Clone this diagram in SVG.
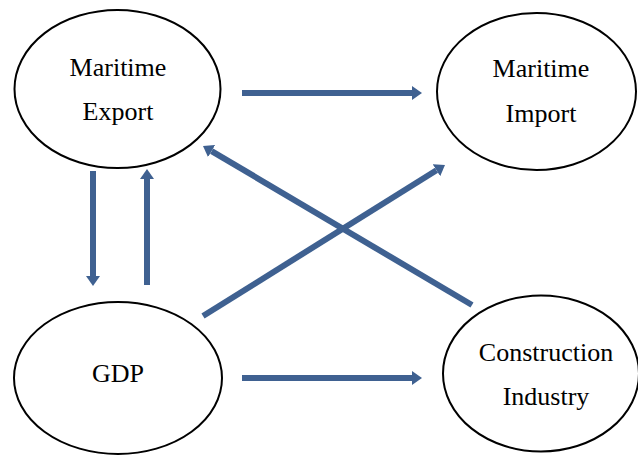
<svg xmlns="http://www.w3.org/2000/svg" width="638" height="455" viewBox="0 0 638 455">
<defs>
<marker id="ah" viewBox="0 0 10 14" refX="0" refY="7" markerWidth="10" markerHeight="14" markerUnits="userSpaceOnUse" orient="auto">
<path d="M0,0 L10,7 L0,14 z" fill="#3F6191"/>
</marker>
<style>
.node ellipse{fill:#fff;stroke:#000;stroke-width:2}
.node text{font-family:"Liberation Serif","Times New Roman",serif;font-size:26px;fill:#000;text-anchor:middle}
.conn line{stroke:#3F6191;stroke-width:6;marker-end:url(#ah)}
</style>
</defs>
<rect width="638" height="455" fill="#fff"/>
<g id="maritime-export" class="node">
<ellipse cx="117.5" cy="89" rx="103" ry="79"/>
<text x="118" y="76">Maritime</text>
<text x="118" y="120">Export</text>
</g>
<g id="maritime-import" class="node">
<ellipse cx="536.5" cy="91.5" rx="99.5" ry="78.5"/>
<text x="541" y="77">Maritime</text>
<text x="541" y="122">Import</text>
</g>
<g id="gdp" class="node">
<ellipse cx="118" cy="378" rx="104" ry="76"/>
<text x="118" y="382">GDP</text>
</g>
<g id="construction-industry" class="node">
<ellipse cx="541" cy="373.5" rx="98" ry="78"/>
<text x="546" y="361">Construction</text>
<text x="546" y="405">Industry</text>
</g>
<g id="connectors" class="conn">
<line x1="242" y1="93" x2="412" y2="93"/>
<line x1="242" y1="378" x2="412" y2="378"/>
<line x1="93" y1="171" x2="93" y2="276"/>
<line x1="147" y1="285" x2="147" y2="179"/>
<line x1="203" y1="316" x2="436.5" y2="170.3"/>
<line x1="472" y1="305" x2="211.6" y2="151.1"/>
</g>
</svg>
